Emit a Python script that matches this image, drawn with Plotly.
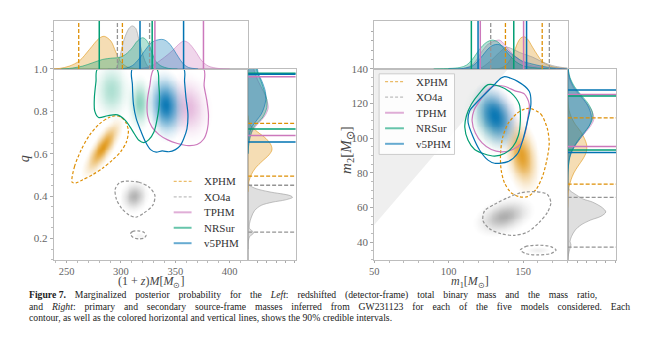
import numpy as np
import plotly.graph_objects as go

W, H = 653, 353

# ---------------- data ----------------
models = ["XPHM", "XO4a", "TPHM", "NRSur", "v5PHM"]
colors = ["#DE8F05", "#949494", "#CC78BC", "#029E73", "#0173B2"]
dashes = ["dash", "dash", "solid", "solid", "solid"]

# 90% credible intervals (marginal lines)
Mz_lo = [261.1, 296.7, 331.2, 280.0, 317.5]
Mz_hi = [301.3, 326.3, 375.9, 328.7, 357.6]
q_lo = [0.494, 0.230, 0.686, 0.716, 0.655]
q_hi = [0.743, 0.451, 0.963, 0.980, 0.975]
m1_lo = [138.2, 128.3, 121.3, 115.3, 119.8]
m1_hi = [162.9, 167.7, 150.4, 143.8, 152.4]
m2_lo = [73.5, 37.2, 95.3, 93.2, 91.8]
m2_hi = [111.7, 65.9, 125.3, 124.4, 127.8]

# 1D marginal densities: left panel, (1+z)M
Mz_XPHM_x = [234, 243.5, 252.6, 261.7, 270.9, 280.0, 284.6, 290.7, 295.2, 299.8, 305.9, 312, 320]
Mz_XPHM_d = [0, 0.01, 0.06, 0.17, 0.41, 0.65, 0.69, 0.59, 0.36, 0.15, 0.04, 0.01, 0]
Mz_XO4a_x = [288, 295.2, 298.3, 302.8, 307.4, 310.4, 313.5, 316.5, 319.6, 322.6, 325.7, 331]
Mz_XO4a_d = [0, 0.01, 0.2, 0.62, 0.86, 0.91, 0.86, 0.62, 0.34, 0.14, 0.03, 0]
Mz_TPHM_x = [315, 319.6, 328.7, 337.9, 347.0, 353.1, 357.7, 362.2, 368.3, 374.4, 380.5, 389.6, 400]
Mz_TPHM_d = [0, 0.01, 0.07, 0.21, 0.38, 0.52, 0.59, 0.55, 0.38, 0.17, 0.06, 0.01, 0]
Mz_NRSur_x = [245, 252.6, 264.8, 273.9, 283.0, 292.2, 298.3, 304.4, 310.5, 315.0, 319.6, 322.6, 325.7, 328.7, 331.7, 336.3, 343.9, 352]
Mz_NRSur_d = [0, 0.01, 0.06, 0.13, 0.2, 0.23, 0.24, 0.31, 0.45, 0.59, 0.66, 0.63, 0.52, 0.34, 0.17, 0.07, 0.01, 0]
Mz_v5PHM_x = [300, 305, 310.5, 316.5, 322.6, 328.7, 334.8, 339.4, 343.9, 348.5, 353.1, 357.7, 362.2, 371]
Mz_v5PHM_d = [0, 0.02, 0.07, 0.21, 0.41, 0.57, 0.62, 0.62, 0.55, 0.41, 0.24, 0.1, 0.03, 0]

# left panel, q
q_XPHM_q = [0.78, 0.76, 0.734, 0.703, 0.672, 0.641, 0.618, 0.595, 0.564, 0.533, 0.502, 0.471, 0.448, 0.42]
q_XPHM_d = [0, 0.01, 0.05, 0.2, 0.38, 0.49, 0.51, 0.45, 0.3, 0.16, 0.07, 0.02, 0.005, 0]
q_XO4a_q = [0.49, 0.466, 0.451, 0.435, 0.420, 0.402, 0.394, 0.382, 0.371, 0.356, 0.332, 0.301, 0.270, 0.247, 0.227, 0.208, 0.185, 0.15]
q_XO4a_d = [0, 0.005, 0.03, 0.17, 0.45, 0.9, 0.95, 0.8, 0.52, 0.28, 0.14, 0.07, 0.03, 0.03, 0.12, 0.03, 0.005, 0]
q_top_q = [1.0, 0.978, 0.94, 0.893, 0.855, 0.817, 0.786, 0.762, 0.739, 0.716, 0.684, 0.638, 0.60]
q_TPHM_d = [0.12, 0.15, 0.22, 0.33, 0.40, 0.43, 0.38, 0.30, 0.20, 0.12, 0.05, 0.01, 0]
q_NRSur_d = [0.18, 0.21, 0.28, 0.35, 0.40, 0.40, 0.35, 0.28, 0.17, 0.10, 0.05, 0.01, 0]
q_v5PHM_d = [0.2, 0.22, 0.30, 0.37, 0.38, 0.34, 0.28, 0.20, 0.12, 0.06, 0.02, 0.005, 0]

# right panel, m1
m1_XPHM_x = [128, 134.2, 138.7, 143.1, 146.5, 148.7, 150.9, 153.1, 156.4, 159.8, 163.1, 167.5, 172.0, 178.7]
m1_XPHM_d = [0, 0.01, 0.08, 0.29, 0.56, 0.66, 0.68, 0.63, 0.46, 0.29, 0.15, 0.07, 0.03, 0.01]
m1_XO4a_x = [112, 120.9, 127.5, 134.2, 138.7, 143.1, 147.6, 152.0, 156.4, 160.9, 165.3, 169.8, 176.4, 180]
m1_XO4a_d = [0, 0.01, 0.15, 0.35, 0.46, 0.42, 0.35, 0.30, 0.25, 0.18, 0.12, 0.07, 0.03, 0.02]
m1_TPHM_x = [100, 109.8, 116.4, 122.0, 126.4, 130.9, 134.2, 137.6, 142.0, 146.4, 150.9, 156.4, 163.1, 169.8, 178]
m1_TPHM_d = [0, 0.01, 0.1, 0.35, 0.52, 0.59, 0.61, 0.52, 0.35, 0.22, 0.12, 0.06, 0.03, 0.01, 0]
m1_NRSur_x = [90, 100.9, 107.6, 112.0, 116.4, 120.9, 125.3, 129.4, 133.1, 136.4, 140.9, 145.3, 149.8, 156.4, 163.1, 172]
m1_NRSur_d = [0, 0.01, 0.03, 0.08, 0.22, 0.42, 0.56, 0.61, 0.57, 0.46, 0.29, 0.15, 0.07, 0.03, 0.01, 0]
m1_v5PHM_x = [100, 109.8, 116.4, 122.0, 126.4, 129.8, 133.1, 136.4, 140.9, 145.3, 149.8, 154.2, 160.9, 167.5, 174.2, 180]
m1_v5PHM_d = [0, 0.01, 0.07, 0.25, 0.42, 0.50, 0.52, 0.48, 0.35, 0.25, 0.16, 0.12, 0.07, 0.03, 0.01, 0]

# right panel, m2
m2_XPHM_y = [124, 120, 116, 112, 108, 104, 100, 96, 92, 88, 84, 80, 76, 72, 68, 64, 60]
m2_XPHM_d = [0, 0.01, 0.03, 0.08, 0.16, 0.27, 0.35, 0.40, 0.39, 0.32, 0.22, 0.13, 0.07, 0.03, 0.01, 0.005, 0]
m2_XO4a_y = [75, 71.7, 69.8, 67.9, 65.0, 63.2, 60.1, 57.5, 55.0, 52.8, 50.0, 47.1, 43.3, 40.4, 38.5, 35.7, 31.9, 30]
m2_XO4a_d = [0, 0.01, 0.05, 0.15, 0.32, 0.52, 0.72, 0.8, 0.7, 0.48, 0.28, 0.16, 0.08, 0.05, 0.07, 0.04, 0.01, 0]
m2_top_y = [140, 135, 130, 125, 120, 115, 111, 107, 103, 99, 95, 91, 87, 82, 76, 70]
m2_TPHM_d = [0.0, 0.03, 0.1, 0.24, 0.40, 0.52, 0.55, 0.48, 0.36, 0.24, 0.13, 0.06, 0.02, 0.01, 0.003, 0]
m2_NRSur_d = [0.01, 0.05, 0.14, 0.28, 0.43, 0.52, 0.52, 0.45, 0.33, 0.22, 0.13, 0.06, 0.03, 0.01, 0.003, 0]
m2_v5PHM_d = [0.01, 0.04, 0.12, 0.26, 0.40, 0.48, 0.50, 0.45, 0.35, 0.24, 0.14, 0.07, 0.03, 0.01, 0.003, 0]

# 90% contours, left panel ((1+z)M, q)
cL_XPHM_x = [255.0, 257.2, 263.3, 270.9, 280.0, 289.1, 295.2, 299.7, 304.4, 306.8, 305.0, 299.7, 292.1, 283.0, 273.9, 264.8, 258.7]
cL_XPHM_y = [0.465, 0.539, 0.617, 0.686, 0.740, 0.771, 0.779, 0.774, 0.748, 0.709, 0.655, 0.609, 0.570, 0.531, 0.501, 0.477, 0.462]
cL_XO4a_x = [304.4, 316.5, 325.7, 331.2, 329.3, 321.1, 313.5, 307.4, 300.7, 295.8, 294.6, 298.3]
cL_XO4a_y = [0.470, 0.465, 0.443, 0.403, 0.357, 0.320, 0.300, 0.311, 0.341, 0.385, 0.431, 0.462]
cL_XO4a_b_x = [308.7, 310.5, 315.5, 321.0, 323.1, 321.3, 316.3, 311.0]
cL_XO4a_b_y = [0.221, 0.232, 0.236, 0.229, 0.215, 0.202, 0.198, 0.205]
cL_TPHM_x = [330.5, 326.5, 324.1, 324.5, 328.5, 335.0, 343.0, 352.0, 362.0, 370.0, 376.0, 379.5, 380.5, 379.0, 376.5, 376.0]
cL_TPHM_y = [1.0, 0.92, 0.842, 0.78, 0.725, 0.69, 0.665, 0.648, 0.638, 0.643, 0.668, 0.715, 0.785, 0.85, 0.92, 1.0]
cL_NRSur_x = [278.5, 277.0, 275.5, 275.8, 279.4, 287.6, 296.8, 304.4, 310.5, 316.5, 321.1, 325.7, 330.3, 333.3, 335.4, 334.8, 332.7]
cL_NRSur_y = [1.0, 0.941, 0.864, 0.802, 0.771, 0.779, 0.783, 0.755, 0.709, 0.663, 0.652, 0.666, 0.702, 0.764, 0.849, 0.926, 1.0]
cL_v5PHM_x = [310.5, 310.5, 311.5, 314.1, 318.1, 322.6, 327.2, 332.4, 337.9, 344.0, 350.1, 354.7, 357.7, 360.7, 361.6, 359.8, 358.5, 357.7]
cL_v5PHM_y = [1.0, 0.926, 0.833, 0.764, 0.709, 0.655, 0.619, 0.607, 0.613, 0.609, 0.619, 0.639, 0.670, 0.717, 0.787, 0.864, 0.941, 1.0]

# 90% contours, right panel (m1, m2)
cR_XPHM_x = [155.3, 162.0, 166.4, 167.6, 166.0, 163.1, 158.7, 153.1, 147.5, 142.0, 137.6, 135.3, 134.9, 136.4, 139.8, 145.3, 150.9]
cR_XPHM_y = [117.1, 113.9, 105.4, 96.9, 87.4, 78.0, 70.4, 66.3, 66.3, 68.6, 74.2, 81.8, 91.2, 100.7, 108.2, 113.9, 116.8]
cR_XO4a_x = [148.7, 159.8, 166.4, 168.7, 166.4, 160.9, 153.1, 144.2, 135.3, 127.5, 123.1, 124.2, 130.9, 139.8]
cR_XO4a_y = [68.6, 69.1, 67.6, 62.9, 57.2, 51.5, 45.9, 44.0, 44.9, 47.8, 52.5, 58.2, 61.9, 65.7]
cR_XO4a_b_x = [148.2, 151.7, 160.2, 168.7, 172.2, 168.7, 160.2, 151.7]
cR_XO4a_b_y = [35.5, 37.5, 38.3, 37.5, 35.5, 33.5, 32.7, 33.5]
cR_TPHM_x = [129.8, 137.6, 144.2, 150.9, 154.2, 153.1, 151.6, 148.7, 143.1, 135.3, 128.7, 122.5, 118.0, 115.8, 117.1, 120.9, 125.3]
cR_TPHM_y = [130.0, 130.0, 127.5, 125.6, 119.6, 111.1, 103.5, 96.9, 93.5, 92.2, 93.5, 97.3, 103.0, 110.1, 116.2, 121.5, 126.8]
cR_NRSur_x = [126.5, 134.2, 142.0, 147.5, 148.2, 146.9, 143.1, 137.6, 130.9, 124.2, 117.5, 113.1, 110.9, 112.0, 115.3, 120.9]
cR_NRSur_y = [130.9, 130.0, 126.2, 119.6, 110.1, 101.6, 95.0, 91.2, 89.7, 90.9, 93.5, 98.8, 106.4, 113.0, 119.6, 126.2]
cR_v5PHM_x = [137.6, 146.4, 154.2, 155.3, 153.1, 149.8, 146.4, 139.8, 130.9, 126.5, 120.9, 116.5, 113.1, 114.2, 119.8, 128.7, 135.3]
cR_v5PHM_y = [135.6, 132.8, 127.1, 119.6, 110.1, 98.8, 91.2, 86.5, 85.6, 87.4, 93.1, 100.7, 109.2, 115.8, 121.5, 129.1, 134.7]

# density peaks (shading), left panel
pkL_model = [0, 1, 1, 2, 3, 3, 4]
pkL_mx = [283, 312, 317, 362, 291, 317, 341]
pkL_my = [0.63, 0.40, 0.215, 0.82, 0.90, 0.84, 0.83]
pkL_sx = [8.5, 6.0, 3.5, 9.5, 8.0, 5.0, 8.0]
pkL_sy = [0.065, 0.035, 0.010, 0.075, 0.07, 0.06, 0.075]
pkL_rho = [0.8, 0.1, -0.2, -0.1, 0.0, 0.0, -0.1]
pkL_w = [1.0, 1.0, 0.2, 1.0, 0.55, 0.75, 1.0]
# density peaks (shading), right panel
pkR_model = [0, 1, 1, 2, 3, 4]
pkR_mx = [149, 137, 160, 134, 128, 131]
pkR_my = [90, 55, 35.5, 112, 110, 113]
pkR_sx = [5.5, 9.0, 5.0, 8.0, 8.0, 7.0]
pkR_sy = [10.0, 5.0, 1.2, 9.0, 9.0, 8.5]
pkR_rho = [-0.3, 0.35, 0.0, -0.3, -0.3, -0.3]
pkR_w = [1.0, 1.0, 0.25, 1.0, 1.0, 1.0]
shade_alpha_L = [0.9, 0.7, 0.5, 0.45, 0.95]
shade_alpha_R = [0.85, 0.75, 0.25, 0.25, 0.95]

xrange_L = [238, 417]
yrange_L = [0.1, 1.0]
xrange_R = [50, 180]
yrange_R = [30, 140]

caption_lines = [
    "<b>Figure 7.</b> Marginalized posterior probability for the <i>Left</i>: redshifted (detector-frame) total binary mass and the mass ratio,",
    "and <i>Right</i>: primary and secondary source-frame masses inferred from GW231123 for each of the five models considered. Each",
    "contour, as well as the colored horizontal and vertical lines, shows the 90% credible intervals.",
]
caption_gap = [" \u2002\u2006", " \u2002\u2006", " "]   # word gaps (justified lines get wider gaps)

# ---------------- helpers ----------------
FONT = "Liberation Serif"


def rgba(h, a):
    h = h.lstrip("#")
    return "rgba(%d,%d,%d,%.3f)" % (int(h[0:2], 16), int(h[2:4], 16), int(h[4:6], 16), a)


def dom_x(a, b):
    return [a / W, b / W]


def dom_y(top, bottom):
    return [1 - bottom / H, 1 - top / H]


def gauss(X, Y, mx, my, sx, sy, rho):
    u = (X - mx) / sx
    v = (Y - my) / sy
    return np.exp(-(u * u - 2 * rho * u * v + v * v) / (2 * (1 - rho * rho)))


def closed(xs, ys):
    return list(xs) + [xs[0]], list(ys) + [ys[0]]


fig = go.Figure()

# ---------------- density shading ----------------
def add_shading(xr, yr, pm, mx, my, sx, sy, rho, w, alphas, xa, ya):
    gx = np.linspace(xr[0], xr[1], 220)
    gy = np.linspace(yr[0], yr[1], 200)
    X, Y = np.meshgrid(gx, gy)
    for k in range(len(models)):
        Z = np.zeros_like(X)
        for j in range(len(pm)):
            if pm[j] == k:
                Z += w[j] * gauss(X, Y, mx[j], my[j], sx[j], sy[j], rho[j])
        if Z.max() <= 0:
            continue
        Z = Z / Z.max()
        c = colors[k]
        fig.add_trace(go.Heatmap(
            x=gx, y=gy, z=Z, zmin=0, zmax=1, zsmooth="best", showscale=False,
            hoverinfo="skip", xaxis=xa, yaxis=ya,
            colorscale=[[0, rgba(c, 0)], [0.06, rgba(c, 0)], [1, rgba(c, alphas[k])]],
        ))

add_shading(xrange_L, yrange_L, pkL_model, pkL_mx, pkL_my, pkL_sx, pkL_sy, pkL_rho, pkL_w, shade_alpha_L, "x", "y")
add_shading(xrange_R, yrange_R, pkR_model, pkR_mx, pkR_my, pkR_sx, pkR_sy, pkR_rho, pkR_w, shade_alpha_R, "x4", "y4")

# ---------------- contours ----------------
contL = [(cL_XPHM_x, cL_XPHM_y, None), (cL_XO4a_x, cL_XO4a_y, (cL_XO4a_b_x, cL_XO4a_b_y)),
         (cL_TPHM_x, cL_TPHM_y, None), (cL_NRSur_x, cL_NRSur_y, None), (cL_v5PHM_x, cL_v5PHM_y, None)]
contR = [(cR_XPHM_x, cR_XPHM_y, None), (cR_XO4a_x, cR_XO4a_y, (cR_XO4a_b_x, cR_XO4a_b_y)),
         (cR_TPHM_x, cR_TPHM_y, None), (cR_NRSur_x, cR_NRSur_y, None), (cR_v5PHM_x, cR_v5PHM_y, None)]

for conts, xa, ya in [(contL, "x", "y"), (contR, "x4", "y4")]:
    for k, (cx, cy, extra) in enumerate(conts):
        xs, ys = closed(cx, cy)
        if extra is not None:
            ex, ey = closed(extra[0], extra[1])
            xs = xs + [None] + ex
            ys = ys + [None] + ey
        dash = "3px,2px" if dashes[k] == "dash" else "solid"
        fig.add_trace(go.Scatter(
            x=xs, y=ys, mode="lines", xaxis=xa, yaxis=ya, showlegend=False, hoverinfo="skip",
            line=dict(color=colors[k], width=1.2, dash=dash, shape="spline", smoothing=0.8),
        ))

# ---------------- marginals ----------------
top_L = [(Mz_XPHM_x, Mz_XPHM_d), (Mz_XO4a_x, Mz_XO4a_d), (Mz_TPHM_x, Mz_TPHM_d),
         (Mz_NRSur_x, Mz_NRSur_d), (Mz_v5PHM_x, Mz_v5PHM_d)]
side_L = [(q_XPHM_q, q_XPHM_d), (q_XO4a_q, q_XO4a_d), (q_top_q, q_TPHM_d),
          (q_top_q, q_NRSur_d), (q_top_q, q_v5PHM_d)]
top_R = [(m1_XPHM_x, m1_XPHM_d), (m1_XO4a_x, m1_XO4a_d), (m1_TPHM_x, m1_TPHM_d),
         (m1_NRSur_x, m1_NRSur_d), (m1_v5PHM_x, m1_v5PHM_d)]
side_R = [(m2_XPHM_y, m2_XPHM_d), (m2_XO4a_y, m2_XO4a_d), (m2_top_y, m2_TPHM_d),
          (m2_top_y, m2_NRSur_d), (m2_top_y, m2_v5PHM_d)]

for k in range(len(models)):
    c = colors[k]
    for (xv, dv), xa, ya in [(top_L[k], "x2", "y2"), (top_R[k], "x5", "y5")]:
        fig.add_trace(go.Scatter(
            x=xv, y=dv, mode="lines", fill="tozeroy", fillcolor=rgba(c, 0.3),
            line=dict(color=rgba(c, 0.55), width=1, shape="spline", smoothing=0.9),
            xaxis=xa, yaxis=ya, showlegend=False, hoverinfo="skip"))
    for (yv, dv), xa, ya in [(side_L[k], "x3", "y3"), (side_R[k], "x6", "y6")]:
        fig.add_trace(go.Scatter(
            x=dv, y=yv, mode="lines", fill="tozerox", fillcolor=rgba(c, 0.3),
            line=dict(color=rgba(c, 0.55), width=1, shape="spline", smoothing=0.9),
            xaxis=xa, yaxis=ya, showlegend=False, hoverinfo="skip"))

# interval lines
for k in range(len(models)):
    c = colors[k]
    dash = "4px,2px" if dashes[k] == "dash" else "solid"
    lw = 1.3 if dashes[k] == "dash" else 1.5
    for lo, hi, xa, ya in [(Mz_lo[k], Mz_hi[k], "x2", "y2"), (m1_lo[k], m1_hi[k], "x5", "y5")]:
        fig.add_trace(go.Scatter(x=[lo, lo, None, hi, hi], y=[0, 1.02, None, 0, 1.02], mode="lines",
                                 line=dict(color=c, width=lw, dash=dash), xaxis=xa, yaxis=ya,
                                 showlegend=False, hoverinfo="skip"))
    for lo, hi, xa, ya in [(q_lo[k], q_hi[k], "x3", "y3"), (m2_lo[k], m2_hi[k], "x6", "y6")]:
        fig.add_trace(go.Scatter(x=[0, 1.02, None, 0, 1.02], y=[lo, lo, None, hi, hi], mode="lines",
                                 line=dict(color=c, width=lw, dash=dash), xaxis=xa, yaxis=ya,
                                 showlegend=False, hoverinfo="skip"))

# ---------------- layout ----------------
tickfont = dict(family=FONT, size=11, color="#666666")
base = dict(showline=True, mirror=True, linecolor="#bdbdbd", linewidth=1, showgrid=False,
            zeroline=False, ticks="outside", ticklen=3, tickcolor="#aaaaaa", tickfont=tickfont)

Lx, Rx = (49, 245), (372, 567)
mainY = (64, 258)
topY = (15, 64)
sideL = (245, 293)
sideR = (567, 616)

layout_axes = dict(
    xaxis=dict(base, domain=dom_x(*Lx), range=xrange_L, anchor="y", tickvals=[250, 300, 350, 400],
               ticklen=2, tickfont=dict(tickfont, size=10.5),
               minor=dict(ticks="outside", ticklen=2, dtick=10, tickcolor="#bbbbbb")),
    yaxis=dict(base, domain=dom_y(*mainY), range=yrange_L, anchor="x", tickvals=[0.2, 0.4, 0.6, 0.8, 1.0],
               tickformat=".1f", minor=dict(ticks="outside", ticklen=2, dtick=0.05, tickcolor="#bbbbbb")),
    xaxis2=dict(base, domain=dom_x(*Lx), range=xrange_L, anchor="y2", showticklabels=False, ticks=""),
    yaxis2=dict(base, domain=dom_y(*topY), range=[0, 1.02], anchor="x2", showticklabels=False,
                tickvals=[0.2, 0.4, 0.6, 0.8], ticklen=2),
    xaxis3=dict(base, domain=dom_x(*sideL), range=[0, 1.02], anchor="y3", showticklabels=False,
                tickvals=[0.2, 0.4, 0.6, 0.8, 1.0], ticklen=2),
    yaxis3=dict(base, domain=dom_y(*mainY), range=yrange_L, anchor="x3", showticklabels=False, ticks=""),
    xaxis4=dict(base, domain=dom_x(*Rx), range=xrange_R, anchor="y4", tickvals=[50, 100, 150],
                ticklen=2, tickfont=dict(tickfont, size=10.5),
                minor=dict(ticks="outside", ticklen=2, dtick=10, tickcolor="#bbbbbb")),
    yaxis4=dict(base, domain=dom_y(*mainY), range=yrange_R, anchor="x4", tickvals=[40, 60, 80, 100, 120, 140],
                minor=dict(ticks="outside", ticklen=2, dtick=5, tickcolor="#bbbbbb")),
    xaxis5=dict(base, domain=dom_x(*Rx), range=xrange_R, anchor="y5", showticklabels=False, ticks=""),
    yaxis5=dict(base, domain=dom_y(*topY), range=[0, 1.02], anchor="x5", showticklabels=False,
                tickvals=[0.2, 0.4, 0.6, 0.8], ticklen=2),
    xaxis6=dict(base, domain=dom_x(*sideR), range=[0, 1.02], anchor="y6", showticklabels=False,
                tickvals=[0.2, 0.4, 0.6, 0.8, 1.0], ticklen=2),
    yaxis6=dict(base, domain=dom_y(*mainY), range=yrange_R, anchor="x6", showticklabels=False, ticks=""),
)

annotations = []
shapes = []
lab = dict(family=FONT, size=12, color="#444444")
annotations.append(dict(text="(1 + <i>z</i>)<i>M</i>[<i>M</i><sub>⊙</sub>]", x=147 / W, y=1 - 280.5 / H,
                        xref="paper", yref="paper", showarrow=False, font=lab, xanchor="center", yanchor="middle"))
annotations.append(dict(text="<i>m</i><sub>1</sub>[<i>M</i><sub>⊙</sub>]", x=469 / W, y=1 - 280.5 / H,
                        xref="paper", yref="paper", showarrow=False, font=lab, xanchor="center", yanchor="middle"))
annotations.append(dict(text="<i>q</i>", x=20 / W, y=1 - 155 / H, textangle=-90,
                        xref="paper", yref="paper", showarrow=False, font=dict(lab, size=14),
                        xanchor="center", yanchor="middle"))
annotations.append(dict(text="<i>m</i><sub>2</sub>[<i>M</i><sub>⊙</sub>]", x=344 / W, y=1 - 146 / H, textangle=-90,
                        xref="paper", yref="paper", showarrow=False, font=dict(lab, size=15),
                        xanchor="center", yanchor="middle"))

cap_y = [294, 305.5, 317]
for t, gap, yy in zip(caption_lines, caption_gap, cap_y):
    annotations.append(dict(text=t.replace(" ", gap).replace("<b>Figure" + gap, "<b>Figure "),
                            x=22 / W, y=1 - yy / H, xref="paper", yref="paper", showarrow=False,
                            font=dict(family=FONT, size=9.7, color="#222222"), xanchor="left", yanchor="middle"))

# legends (drawn as line samples + text, matching matplotlib spacing)
leg_specs = [
    dict(line_x=(170, 188), text_x=199, rows=[178.5, 194.2, 209.9, 225.6, 241.3], box=None),
    dict(line_x=(383, 402), text_x=412, rows=[77.0, 92.8, 108.6, 124.4, 140.2], box=(377, 69, 453, 151)),
]
legfont = dict(family=FONT, size=11, color="#333333")
for spec in leg_specs:
    if spec["box"] is not None:
        x0, y0, x1, y1 = spec["box"]
        shapes.append(dict(type="rect", xref="paper", yref="paper", x0=x0 / W, x1=x1 / W,
                           y0=1 - y1 / H, y1=1 - y0 / H, fillcolor="rgba(255,255,255,0.85)",
                           line=dict(color="#cccccc", width=1), layer="above"))
    for k, ry in enumerate(spec["rows"]):
        dash = "3px,2px" if dashes[k] == "dash" else "solid"
        lw = 1.3 if dashes[k] == "dash" else 2
        shapes.append(dict(type="line", xref="paper", yref="paper",
                           x0=spec["line_x"][0] / W, x1=spec["line_x"][1] / W,
                           y0=1 - ry / H, y1=1 - ry / H, layer="above",
                           line=dict(color=rgba(colors[k], 0.6), width=lw, dash=dash)))
        annotations.append(dict(text=models[k], x=spec["text_x"] / W, y=1 - ry / H, xref="paper", yref="paper",
                                showarrow=False, font=legfont, xanchor="left", yanchor="middle"))

shapes.insert(0, dict(type="path", xref="x4", yref="y4", layer="below",
                      path="M %g %g L %g %g L %g %g Z" % (xrange_R[0], xrange_R[0], yrange_R[1], yrange_R[1],
                                                           xrange_R[0], yrange_R[1]),
                      fillcolor="#efefef", line=dict(width=0)))

fig.update_layout(
    width=W, height=H, margin=dict(l=0, r=0, t=0, b=0), paper_bgcolor="white", plot_bgcolor="white",
    annotations=annotations, shapes=shapes, showlegend=False,
    **layout_axes,
)

fig.write_html("out.html")
